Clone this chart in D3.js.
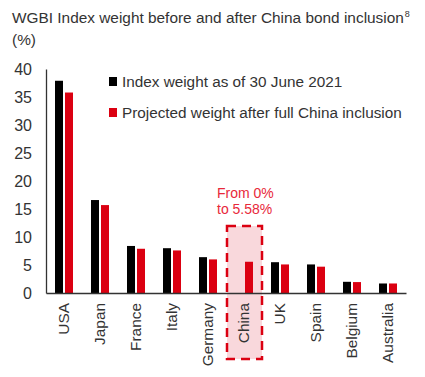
<!DOCTYPE html>
<html>
<head>
<meta charset="utf-8">
<script src="https://cdn.jsdelivr.net/npm/d3@7"></script>
<style>
  body { margin: 0; background: #fff; }
  svg text { font-family: "Liberation Sans", Arial, sans-serif; }
</style>
</head>
<body>
<svg id="chart"></svg>
<script>
// data
const countries = ["USA", "Japan", "France", "Italy", "Germany", "China", "UK", "Spain", "Belgium", "Australia"];
const weightBefore = [37.9, 16.6, 8.4, 8.0, 6.4, 0, 5.5, 5.1, 2.0, 1.7];
const weightAfter = [35.8, 15.7, 7.9, 7.6, 6.0, 5.58, 5.1, 4.7, 1.95, 1.7];
const yTicks = [0, 5, 10, 15, 20, 25, 30, 35, 40];
const seriesNames = ["Index weight as of 30 June 2021", "Projected weight after full China inclusion"];
const highlight = "China";
const noteLines = ["From 0%", "to 5.58%"];

const width = 425, height = 377;
const margin = { top: 69, right: 19, bottom: 84, left: 46 };
const red = "#db0011", black = "#000", textColor = "#333";

const svg = d3.select("#chart").attr("width", width).attr("height", height);

// title
const title = svg.append("text").attr("x", 12).attr("y", 23)
    .attr("font-size", 15.4).attr("fill", textColor);
title.append("tspan").text("WGBI Index weight before and after China bond inclusion");
title.append("tspan").attr("font-size", 9).attr("dy", -6).attr("dx", 1).text("8");
svg.append("text").attr("x", 12).attr("y", 45).attr("font-size", 15.4)
    .attr("fill", textColor).text("(%)");

const x = d3.scaleBand().domain(countries)
    .range([margin.left, width - margin.right]).padding(0);
const y = d3.scaleLinear().domain([0, 40])
    .range([height - margin.bottom, margin.top]);

const barW = 8, gap = 2;

// China highlight box
const hx = x(highlight);
svg.append("rect")
    .attr("x", hx + 1).attr("y", 226)
    .attr("width", x.bandwidth() - 1).attr("height", 133)
    .attr("fill", "#f9d8dc")
    .attr("stroke", red).attr("stroke-width", 2.5)
    .attr("stroke-dasharray", "9,6");

svg.append("text").attr("x", hx - 9).attr("y", 198)
    .attr("font-size", 14).attr("fill", "#e8283a")
    .selectAll("tspan").data(noteLines).join("tspan")
    .attr("x", hx - 9).attr("dy", (d, i) => i ? 16 : 0).text(d => d);

// bars
const cx = d => x(d) + x.bandwidth() / 2;
svg.append("g").selectAll("rect").data(countries).join("rect")
    .attr("x", d => cx(d) - barW - gap / 2)
    .attr("y", (d, i) => y(weightBefore[i]))
    .attr("width", barW)
    .attr("height", (d, i) => y(0) - y(weightBefore[i]))
    .attr("fill", black);
svg.append("g").selectAll("rect").data(countries).join("rect")
    .attr("x", d => cx(d) + gap / 2)
    .attr("y", (d, i) => y(weightAfter[i]))
    .attr("width", barW)
    .attr("height", (d, i) => y(0) - y(weightAfter[i]))
    .attr("fill", red);

// y axis
const gY = svg.append("g").attr("transform", `translate(${margin.left},0)`)
    .call(d3.axisLeft(y).tickValues(yTicks).tickSize(0).tickPadding(14));
gY.select(".domain").attr("stroke", "#333").attr("stroke-width", 1.3);
gY.selectAll("text").attr("font-size", 16).attr("fill", textColor)
    .style("font-family", "'Liberation Sans', Arial, sans-serif");

// x axis
const gX = svg.append("g").attr("transform", `translate(0,${y(0)})`)
    .call(d3.axisBottom(x).tickSize(0).tickPadding(0));
gX.select(".domain").attr("stroke", "#333").attr("stroke-width", 1.3);
gX.selectAll("text")
    .attr("font-size", 15.4).attr("fill", textColor)
    .style("font-family", "'Liberation Sans', Arial, sans-serif")
    .style("text-anchor", "end")
    .attr("transform", "rotate(-90)")
    .attr("x", -10).attr("y", 0).attr("dy", "0.35em");

// legend
const legend = svg.append("g");
[black, red].forEach((c, i) => {
    legend.append("rect").attr("x", 109).attr("y", 77 + i * 31)
        .attr("width", 8).attr("height", 9).attr("fill", c);
    legend.append("text").attr("x", 122).attr("y", 87 + i * 31)
        .attr("font-size", 15.3).attr("fill", textColor).text(seriesNames[i]);
});
</script>
</body>
</html>
